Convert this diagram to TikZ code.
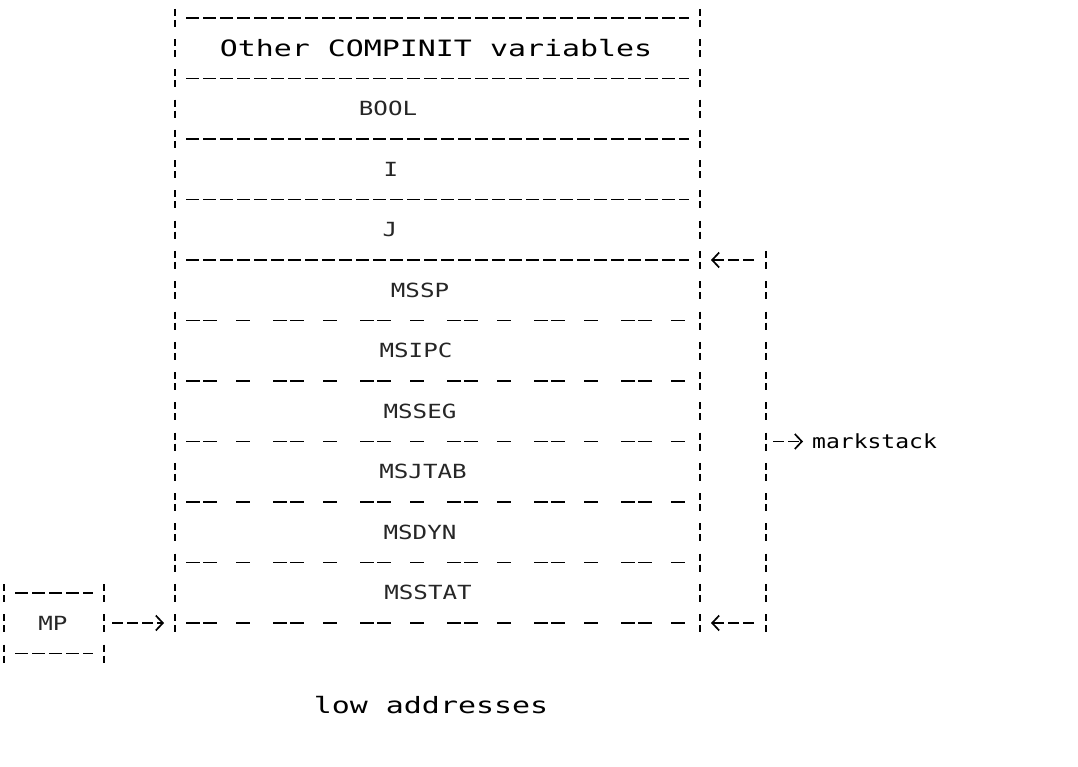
\documentclass[tikz,border=0pt]{standalone}
\usepackage{fontspec}
\usepackage{graphicx}
\newfontfamily\dmfont{DejaVu Sans Mono}
\usetikzlibrary{arrows.meta}
\begin{document}
\begin{tikzpicture}[x=1pt,y=-1pt,
  vbar/.style={line width=2.2pt, dash pattern=on 7pt off 4pt on 7pt off 12.25pt},
  dense/.style={line width=1.7pt, dash pattern=on 13pt off 4pt},
  sparse/.style={line width=1.6pt, dash pattern=on 14pt off 3pt on 14pt off 19pt on 14pt off 23pt},
  wide/.style={font=\fontsize{22.5}{23}\dmfont, inner sep=0pt},
  lbl/.style={font=\fontsize{19.5}{20}\dmfont, inner sep=0pt, text=black!85},
  arr/.style={line width=1.7pt, dash pattern=on 11pt off 4pt,
    -{Straight Barb[length=7pt,width=15pt,line width=1.7pt]}}
]
\useasboundingbox (0,0) rectangle (1078,767);
% stack borders
\draw[vbar] (175,9) -- (175,634);
\draw[vbar] (700,9) -- (700,634);
% separator lines
\foreach \k in {0,...,4} \draw[dense] (186,18+60.5*\k) -- (689,18+60.5*\k);
\foreach \k in {5,...,10} \draw[sparse] (186,18+60.5*\k) -- (689,18+60.5*\k);
% cell labels
\node[wide] (other) at (436,48.25) {\scalebox{1.33}[1]{Other COMPINIT variables}};
\node[lbl] (bool) at (388,108.75) {\scalebox{1.24}[1]{BOOL}};
\node[lbl] (vi) at (391,169.25) {\scalebox{1.24}[1]{I}};
\node[lbl] (vj) at (390,229.75) {\scalebox{1.24}[1]{J}};
\node[lbl] (mssp) at (420,290.25) {\scalebox{1.24}[1]{MSSP}};
\node[lbl] (msipc) at (416,350.75) {\scalebox{1.24}[1]{MSIPC}};
\node[lbl] (msseg) at (420,411.25) {\scalebox{1.24}[1]{MSSEG}};
\node[lbl] (msjtab) at (423,471.75) {\scalebox{1.24}[1]{MSJTAB}};
\node[lbl] (msdyn) at (420,532.25) {\scalebox{1.24}[1]{MSDYN}};
\node[lbl] (msstat) at (428,592.75) {\scalebox{1.24}[1]{MSSTAT}};
% markstack bracket
\draw[vbar] (766,251) -- (766,634);
\coordinate (mkT) at (766,260);
\coordinate (mkB) at (766,623);
\coordinate (mkM) at (766,441.5);
\coordinate (stT) at (700,260);
\coordinate (stB) at (700,623);
\draw[arr, shorten <=12pt, shorten >=11pt] (mkT) -- (stT);
\draw[arr, shorten <=12pt, shorten >=11pt] (mkB) -- (stB);
\node[lbl, text=black, anchor=west] (mk) at (812,441.5) {\scalebox{1.18}[1]{markstack}};
\draw[arr, shorten <=7pt, shorten >=9pt] (mkM) -- (mk.west);
% MP box
\draw[vbar] (4,584) -- (4,665);
\draw[vbar] (104,584) -- (104,665);
\draw[dense] (15,593) -- (93,593);
\draw[dense] (15,653.5) -- (93,653.5);
\node[lbl] (mp) at (53,623) {\scalebox{1.24}[1]{MP}};
\coordinate (mpR) at (104,623);
\coordinate (stL) at (175,623);
\draw[arr, shorten <=8pt, shorten >=11pt] (mpR) -- (stL);
% footer
\node[wide] (low) at (431,705) {\scalebox{1.33}[1]{low addresses}};
\end{tikzpicture}
\end{document}
